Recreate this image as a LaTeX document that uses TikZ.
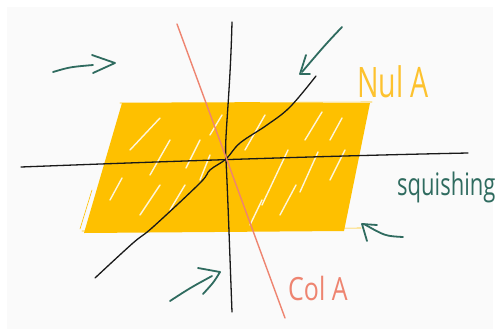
\documentclass[tikz,border=0pt]{standalone}
\usepackage{fontspec}
\setmainfont{Open Sans}
\definecolor{bg}{HTML}{FAFAFA}
\definecolor{amber}{HTML}{FEC000}
\definecolor{nulcol}{HTML}{FDC22E}
\definecolor{salmon}{HTML}{EE8470}
\definecolor{teal}{HTML}{2F6B5F}
\begin{document}
\begin{tikzpicture}[x=1pt,y=-1pt,line cap=round,line join=round,
  axis/.style={line width=1.3pt,black!90},
  arr/.style={line width=1.8pt,teal},
  streak/.style={line width=1.4pt,white,opacity=0.85},
  hand/.style={inner sep=0pt,anchor=base west}]
\useasboundingbox (0,0) rectangle (496,333);
\fill[white] (0,0) rectangle (496,333);
\fill[bg] (7,7) rectangle (493,329);
% shaded region (Nul A)
\fill[amber] (122,103) -- (370,103) -- (344,231) -- (84,233) -- cycle;
\draw[amber,line width=0.6pt] (120,103) -- (372,102);
\draw[amber,line width=0.6pt] (82,231) -- (361,228);
\draw[amber,line width=0.6pt] (80,229) -- (92,190);
% white streaks
\foreach \a/\b/\c/\d in {130/150/160/118, 150/175/170/140, 186/168/200/140, 200/180/210/155,
  140/215/160/185, 245/150/265/115, 262/205/288/150, 300/192/318/152, 305/140/322/112,
  330/180/345/150, 170/210/185/185, 250/225/262/200, 280/215/296/185, 210/135/222/115,
  330/140/342/118, 110/200/122/178}
  \draw[streak] (\a,\b) -- (\c,\d);
% axes
\draw[axis] (21,167) .. controls (150,162) and (320,156) .. (468,153);
\draw[axis] (232,22) .. controls (230,100) and (224,140) .. (226,160)
  .. controls (228,200) and (230,260) .. (232,312);
\draw[axis] plot[smooth,tension=0.6] coordinates {(316,76) (290,107) (267,125) (240,143)
  (226,159) (210,170) (200,183) (153,227) (133,243) (95,278)};
% Col A line
\draw[salmon,line width=1.4pt] (177,24) -- (285,318);
% labels
\node[hand,text=nulcol] (nul) at (357,97)
  {\scalebox{0.68}[1]{\fontsize{42}{42}\selectfont Nul A}};
\node[hand,text=teal] (squish) at (397,195)
  {\scalebox{0.71}[1]{\fontsize{31}{31}\selectfont squishing}};
\node[hand,text=salmon] (col) at (288,300)
  {\scalebox{0.78}[1]{\fontsize{32}{32}\selectfont Col A}};
% arrows
\draw[arr] (53,72) .. controls (70,67) .. (93,65);
\draw[arr] (92,55) -- (115,63) -- (93,73);
\draw[arr] (342,27) .. controls (325,45) .. (302,72);
\draw[arr] (306,55) -- (300,74) -- (310,74);
\draw[arr] (403,237) .. controls (385,236) .. (364,224);
\draw[arr] (367,241) -- (362,224) -- (377,225);
\draw[arr] (170,301) .. controls (190,288) .. (212,276);
\draw[arr] (198,268) -- (220,272) .. controls (214,282) .. (203,294);
\end{tikzpicture}
\end{document}
